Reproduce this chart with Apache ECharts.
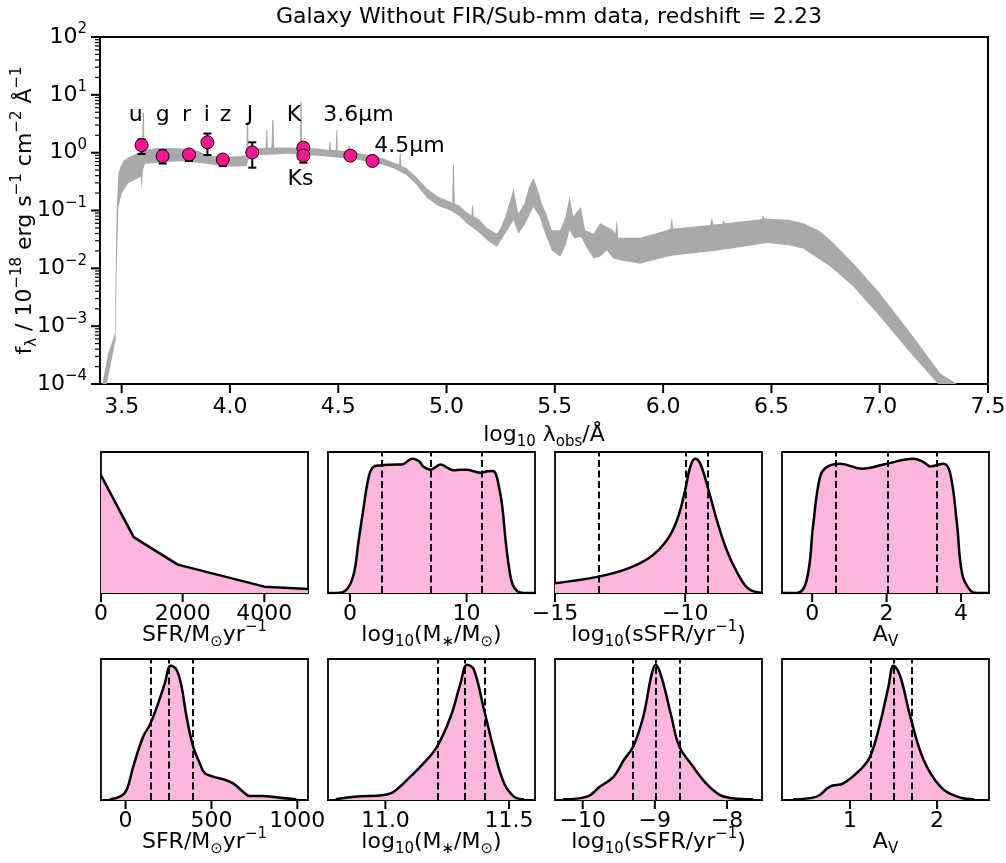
<!DOCTYPE html>
<html>
<head>
<meta charset="utf-8">
<title>SED fit</title>
<script src="https://cdn.jsdelivr.net/npm/echarts@6/dist/echarts.min.js"></script>
<style>
  html, body { margin: 0; padding: 0; background: #fff; }
  #main { width: 1006px; height: 863px; }
</style>
</head>
<body>
<div id="main"></div>
<script>
// SED band: [log10 lambda_obs / A, log10 flux (1e-18 erg/s/cm2/A)]
const sedUpper = [[3.411,-4.0],[3.438,-3.47],[3.469,-3.13],[3.474,-1.6],[3.477,-0.99],[3.485,-0.36],[3.492,-0.27],[3.510,-0.13],[3.531,-0.08],[3.555,-0.04],[3.577,0.0],[3.595,0.02],[3.597,0.69],[3.603,0.69],[3.605,0.03],[3.620,0.06],[3.662,0.08],[3.720,0.08],[3.770,0.07],[3.816,0.06],[3.860,0.02],[3.893,-0.04],[3.930,-0.06],[3.970,-0.07],[4.030,-0.06],[4.076,-0.05],[4.078,0.53],[4.084,0.53],[4.086,0.02],[4.100,0.07],[4.150,0.08],[4.165,0.09],[4.168,0.39],[4.172,0.39],[4.175,0.09],[4.192,0.09],[4.195,0.56],[4.201,0.56],[4.204,0.09],[4.278,0.09],[4.323,0.08],[4.325,0.88],[4.331,0.88],[4.333,0.08],[4.400,0.07],[4.431,0.06],[4.457,0.05],[4.460,0.19],[4.464,0.19],[4.467,0.05],[4.488,0.04],[4.491,0.39],[4.495,0.39],[4.498,0.04],[4.545,0.02],[4.548,0.13],[4.552,0.13],[4.555,0.02],[4.585,0.0],[4.650,-0.05],[4.708,-0.10],[4.760,-0.18],[4.781,-0.20],[4.784,-0.01],[4.788,-0.01],[4.791,-0.22],[4.816,-0.27],[4.860,-0.42],[4.909,-0.62],[4.960,-0.76],[5.017,-0.85],[5.026,-0.88],[5.030,-0.21],[5.034,-0.21],[5.038,-0.88],[5.060,-0.92],[5.093,-1.03],[5.115,-1.08],[5.118,-0.91],[5.122,-0.91],[5.125,-1.10],[5.150,-1.15],[5.186,-1.30],[5.232,-1.40],[5.250,-1.30],[5.271,-1.11],[5.300,-0.75],[5.309,-0.62],[5.320,-0.85],[5.332,-1.05],[5.360,-0.88],[5.380,-0.60],[5.401,-0.44],[5.420,-0.62],[5.440,-0.88],[5.460,-1.05],[5.486,-1.34],[5.525,-1.34],[5.550,-1.10],[5.568,-0.76],[5.585,-1.11],[5.620,-0.94],[5.640,-1.34],[5.679,-1.40],[5.709,-1.22],[5.740,-1.28],[5.770,-1.34],[5.779,-1.40],[5.786,-1.15],[5.793,-1.47],[5.894,-1.47],[6.017,-1.34],[6.033,-1.32],[6.040,-1.11],[6.047,-1.31],[6.217,-1.25],[6.225,-1.12],[6.232,-1.24],[6.272,-1.23],[6.279,-1.17],[6.286,-1.22],[6.454,-1.15],[6.461,-1.08],[6.468,-1.14],[6.580,-1.16],[6.649,-1.22],[6.720,-1.35],[6.772,-1.51],[6.880,-1.92],[7.003,-2.44],[7.157,-3.19],[7.280,-3.82],[7.357,-4.0]];
const sedLower = [[3.431,-4.0],[3.472,-3.24],[3.477,-2.0],[3.485,-0.94],[3.500,-0.70],[3.531,-0.53],[3.577,-0.44],[3.588,-0.42],[3.593,-0.65],[3.598,-0.30],[3.608,-0.19],[3.654,-0.18],[3.700,-0.16],[3.770,-0.15],[3.816,-0.16],[3.893,-0.19],[3.970,-0.24],[4.030,-0.24],[4.077,-0.23],[4.090,-0.05],[4.200,-0.03],[4.278,-0.02],[4.431,-0.06],[4.585,-0.12],[4.708,-0.21],[4.760,-0.28],[4.816,-0.39],[4.860,-0.55],[4.909,-0.78],[4.960,-0.92],[5.017,-1.00],[5.060,-1.10],[5.093,-1.22],[5.150,-1.38],[5.186,-1.51],[5.232,-1.63],[5.271,-1.40],[5.309,-1.17],[5.332,-1.40],[5.360,-1.25],[5.401,-0.94],[5.430,-1.11],[5.450,-1.34],[5.486,-1.69],[5.525,-1.80],[5.550,-1.60],[5.568,-1.34],[5.590,-1.48],[5.620,-1.46],[5.650,-1.66],[5.679,-1.83],[5.709,-1.80],[5.740,-1.69],[5.770,-1.83],[5.802,-1.86],[5.894,-1.92],[6.017,-1.80],[6.063,-1.77],[6.217,-1.71],[6.310,-1.66],[6.479,-1.56],[6.580,-1.60],[6.649,-1.66],[6.772,-1.97],[6.880,-2.32],[7.003,-2.84],[7.157,-3.53],[7.270,-4.0]];

// photometry (flux in 1e-18 erg/s/cm2/A)
const photLogLam = [3.592, 3.689, 3.811, 3.896, 3.967, 4.103, 4.339, 4.339, 4.556, 4.658];
const photFlux   = [1.35, 0.87, 0.93, 1.51, 0.76, 1.01, 1.22, 0.89, 0.89, 0.72];
const photLow    = [0.95, 0.65, 0.72, 0.91, 0.59, 0.55, 1.15, 0.67, 0.86, 0.70];
const photHigh   = [1.70, 1.10, 1.10, 2.14, 0.91, 1.51, 1.30, 1.00, 0.92, 0.74];

// filter names
const filterNames  = ['u', 'g', 'r', 'i', 'z', 'J', 'K', '3.6μm', '4.5μm', 'Ks'];
const filterLogLam = [3.565, 3.690, 3.799, 3.893, 3.979, 4.093, 4.295, 4.593, 4.829, 4.326];
const filterFlux   = [4.48, 4.48, 4.48, 4.48, 4.48, 4.48, 4.48, 4.48, 1.30, 0.34];

// main axis ticks
const lamTicks = [3.5, 4.0, 4.5, 5.0, 5.5, 6.0, 6.5, 7.0, 7.5];
const fluxTicks = [-4, -3, -2, -1, 0, 1, 2];

// posterior curves (x, normalised density)
const sfrWideX = [0, 800, 1880, 4000, 5070];
const sfrWideY = [0.834, 0.396, 0.201, 0.045, 0.028];
const massWideX = [-1.9, -1.12, -0.26, 0.32, 0.74, 1.17, 1.60, 1.98, 2.61, 3.47, 4.47, 5.33, 5.90, 6.33, 6.91, 7.34, 7.77, 8.34, 8.91, 9.48, 10.06, 10.63, 11.20, 11.78, 12.21, 12.50, 12.78, 13.07, 13.35, 13.64, 13.93, 14.36, 14.93, 15.87];
const massWideY = [0, 0, 0.028, 0.135, 0.372, 0.609, 0.822, 0.893, 0.905, 0.910, 0.912, 0.953, 0.936, 0.893, 0.874, 0.893, 0.912, 0.889, 0.870, 0.874, 0.874, 0.863, 0.853, 0.863, 0.865, 0.846, 0.751, 0.609, 0.372, 0.183, 0.064, 0.012, 0, 0];
const ssfrWideX = [-15, -13.33, -12.24, -11.35, -10.71, -10.32, -10.0, -9.81, -9.62, -9.42, -9.1, -8.78, -8.4, -8.01, -7.63, -7.24, -7.05];
const ssfrWideY = [0.069, 0.116, 0.171, 0.254, 0.372, 0.514, 0.73, 0.893, 0.953, 0.917, 0.727, 0.514, 0.301, 0.147, 0.04, 0.005, 0.002];
const avWideX = [-0.81, -0.42, -0.15, 0.03, 0.21, 0.39, 0.75, 1.33, 2.0, 2.72, 2.99, 3.17, 3.53, 3.71, 3.89, 4.03, 4.25, 4.43, 4.75];
const avWideY = [0, 0, 0.088, 0.49, 0.822, 0.893, 0.917, 0.882, 0.917, 0.953, 0.929, 0.898, 0.917, 0.846, 0.49, 0.135, 0.017, 0, 0];

const sfrX = [-91, -33, 6, 44.6, 102.7, 141.5, 190, 228.7, 263.6, 296.5, 325.6, 354.7, 393.4, 432.2, 461.2, 509.7, 567.8, 626, 684, 723, 800, 878, 994];
const sfrY = [0.005, 0.024, 0.071, 0.237, 0.45, 0.533, 0.687, 0.829, 0.953, 0.924, 0.806, 0.592, 0.379, 0.261, 0.190, 0.166, 0.147, 0.118, 0.059, 0.028, 0.028, 0.019, 0.005];
const massX = [10.80, 10.885, 10.993, 11.034, 11.101, 11.155, 11.209, 11.264, 11.304, 11.331, 11.358, 11.399, 11.439, 11.48, 11.52, 11.561];
const massY = [0.005, 0.024, 0.036, 0.059, 0.166, 0.261, 0.379, 0.592, 0.829, 0.960, 0.924, 0.64, 0.355, 0.118, 0.024, 0.005];
const ssfrX = [-10.27, -9.94, -9.76, -9.57, -9.43, -9.30, -9.16, -9.05, -8.99, -8.91, -8.77, -8.66, -8.47, -8.29, -8.1, -7.92, -7.64];
const ssfrY = [0.005, 0.024, 0.095, 0.166, 0.284, 0.379, 0.592, 0.877, 0.960, 0.877, 0.592, 0.379, 0.237, 0.118, 0.036, 0.012, 0.005];
const avX = [0.346, 0.615, 0.769, 0.923, 1.115, 1.231, 1.346, 1.442, 1.5, 1.577, 1.692, 1.846, 2.038, 2.231, 2.423];
const avY = [0.005, 0.024, 0.095, 0.118, 0.213, 0.308, 0.545, 0.806, 0.953, 0.877, 0.592, 0.284, 0.095, 0.024, 0.005];

// 16/50/84 percentiles
const massWideQ = [2.75, 6.91, 11.26];
const ssfrWideQ = [-13.33, -9.97, -9.13];
const avWideQ = [0.64, 2.02, 3.35];
const sfrQ = [147, 254, 390];
const massQ = [11.209, 11.322, 11.397];
const ssfrQ = [-9.31, -8.99, -8.66];
const avQ = [1.238, 1.5, 1.712];

// tick labels of the small panels
const sfrWideTicks = [0, 2000, 4000];
const massWideTicks = [0, 10];
const ssfrWideTicks = [-15, -10];
const avWideTicks = [0, 2, 4];
const sfrTicks = [0, 500, 1000];
const massTicks = [11.0, 11.5];
const ssfrTicks = [-10, -9, -8];
const avTicks = [1, 2];

const FONT = 'DejaVu Sans';
const rich = {
  b: { fontSize: 22, lineHeight: 30, fontFamily: FONT, color: '#000' },
  sp: { fontSize: 15, lineHeight: 16, verticalAlign: 'top', fontFamily: FONT, color: '#000' },
  sb: { fontSize: 15, lineHeight: 16, verticalAlign: 'bottom', fontFamily: FONT, color: '#000' }
};
const minus = (s) => String(s).replace('-', '−');

const sfrName = '{b|SFR/M}{sb|⊙}{b|yr}{sp|−1}';
const massName = '{b|log}{sb|10}{b|(M}{sb|∗}{b|/M}{sb|⊙}{b|)}';
const ssfrName = '{b|log}{sb|10}{b|(sSFR/yr}{sp|−1}{b|)}';
const avName = '{b|A}{sb|V}';

const panels = [
  { x: sfrWideX, y: sfrWideY, q: [], ticks: sfrWideTicks, min: 0, max: 5070, dec: 0, name: sfrName, smooth: false },
  { x: massWideX, y: massWideY, q: massWideQ, ticks: massWideTicks, min: -1.89, max: 15.87, dec: 0, name: massName, smooth: 0.4 },
  { x: ssfrWideX, y: ssfrWideY, q: ssfrWideQ, ticks: ssfrWideTicks, min: -15, max: -7.05, dec: 0, name: ssfrName, smooth: 0.4 },
  { x: avWideX, y: avWideY, q: avWideQ, ticks: avWideTicks, min: -0.81, max: 4.75, dec: 0, name: avName, smooth: 0.4 },
  { x: sfrX, y: sfrY, q: sfrQ, ticks: sfrTicks, min: -143, max: 1062, dec: 0, name: sfrName, smooth: 0.4 },
  { x: massX, y: massY, q: massQ, ticks: massTicks, min: 10.768, max: 11.605, dec: 1, name: massName, smooth: 0.4 },
  { x: ssfrX, y: ssfrY, q: ssfrQ, ticks: ssfrTicks, min: -10.384, max: -7.514, dec: 0, name: ssfrName, smooth: 0.4 },
  { x: avX, y: avY, q: avQ, ticks: avTicks, min: 0.219, max: 2.596, dec: 0, name: avName, smooth: 0.4 }
];

// log minor tick positions (2..9 x 10^k)
const minorTicks = [];
for (let k = -4; k < 2; k++) {
  for (let j = 2; j < 10; j++) minorTicks.push(k + Math.log10(j));
}

const grids = [{
  left: 100, top: 37, width: 888, height: 347, containLabel: false, outerBoundsMode: 'none',
  show: true, borderColor: '#000', borderWidth: 2
}];
const colLeft = [101, 328, 555, 782];
const rowTop = [452, 659];
panels.forEach((p, i) => {
  grids.push({
    left: colLeft[i % 4], top: rowTop[Math.floor(i / 4)], width: 207, height: 141,
    containLabel: false, outerBoundsMode: 'none',
    show: true, borderColor: '#000', borderWidth: 1.8
  });
});

const xAxes = [{
  gridIndex: 0, type: 'value', min: 3.4, max: 7.5, position: 'bottom',
  name: '{b|log}{sb|10}{b| λ}{sb|obs}{b|/Å}', nameLocation: 'middle', nameGap: 36, nameMoveOverlap: false,
  nameTextStyle: { rich: rich },
  axisLine: { show: true, onZero: false, lineStyle: { color: '#000', width: 2 } },
  axisTick: { show: false },
  axisLabel: { customValues: lamTicks, formatter: (v) => v.toFixed(1), fontSize: 22, fontFamily: FONT, color: '#000', margin: 12 },
  splitLine: { show: false }
}];
const yAxes = [{
  gridIndex: 0, type: 'value', min: -4, max: 2, interval: 1, position: 'left',
  name: '{b|f}{sb|λ}{b| / 10}{sp|−18}{b| erg s}{sp|−1}{b| cm}{sp|−2}{b| Å}{sp|−1}',
  nameLocation: 'middle', nameGap: 60, nameMoveOverlap: false, nameTextStyle: { rich: rich },
  axisLine: { show: true, onZero: false, lineStyle: { color: '#000', width: 2 } },
  axisTick: { show: false },
  axisLabel: {
    margin: 13,
    formatter: (v) => '{b|10}{sp|' + minus(Math.round(v)) + '}', rich: rich
  },
  splitLine: { show: false }
}];

panels.forEach((p, i) => {
  xAxes.push({
    gridIndex: i + 1, type: 'value', min: p.min, max: p.max, position: 'bottom',
    name: p.name, nameLocation: 'middle', nameGap: 27, nameMoveOverlap: false, nameTextStyle: { rich: rich },
    axisLine: { show: true, onZero: false, lineStyle: { color: '#000', width: 1.8 } },
    axisTick: { show: false },
    axisLabel: {
      customValues: p.ticks, formatter: (v) => minus(v.toFixed(p.dec)),
      fontSize: 22, fontFamily: FONT, color: '#000', margin: 10
    },
    splitLine: { show: false }
  });
  yAxes.push({ gridIndex: i + 1, type: 'value', min: 0, max: 1, show: false });
});

const series = [{
  type: 'custom', xAxisIndex: 0, yAxisIndex: 0, z: 1,
  data: [[5, 0]],
  renderItem: function (params, api) {
    const pts = [];
    sedUpper.forEach((d) => pts.push(api.coord(d)));
    for (let i = sedLower.length - 1; i >= 0; i--) pts.push(api.coord(sedLower[i]));
    return { type: 'polygon', shape: { points: pts }, style: { fill: '#a9a9a9' } };
  }
}, {
  type: 'custom', xAxisIndex: 0, yAxisIndex: 0, z: 2,
  data: photLogLam.map((x, i) => [x, Math.log10(photLow[i]), Math.log10(photHigh[i])]),
  renderItem: function (params, api) {
    const lo = api.coord([api.value(0), api.value(1)]);
    const hi = api.coord([api.value(0), api.value(2)]);
    const cw = 4;
    const st = { stroke: '#000', lineWidth: 2 };
    return {
      type: 'group', children: [
        { type: 'line', shape: { x1: lo[0], y1: lo[1], x2: hi[0], y2: hi[1] }, style: st },
        { type: 'line', shape: { x1: lo[0] - cw, y1: lo[1], x2: lo[0] + cw, y2: lo[1] }, style: st },
        { type: 'line', shape: { x1: hi[0] - cw, y1: hi[1], x2: hi[0] + cw, y2: hi[1] }, style: st }
      ]
    };
  }
}, {
  type: 'scatter', xAxisIndex: 0, yAxisIndex: 0, z: 3,
  symbol: 'circle', symbolSize: 13,
  itemStyle: { color: '#ff1493', borderColor: '#000', borderWidth: 1, opacity: 1 },
  data: photLogLam.map((x, i) => [x, Math.log10(photFlux[i])])
}, {
  type: 'scatter', xAxisIndex: 0, yAxisIndex: 0, z: 4,
  symbolSize: 1, itemStyle: { color: 'rgba(0,0,0,0)', opacity: 1 },
  label: {
    show: true, position: 'inside', formatter: '{b}', fontSize: 22, fontFamily: FONT,
    color: '#000', opacity: 1, textBorderWidth: 0
  },
  data: filterNames.map((n, i) => ({ name: n, value: [filterLogLam[i], Math.log10(filterFlux[i])] }))
}];

panels.forEach((p, i) => {
  series.push({
    type: 'line', xAxisIndex: i + 1, yAxisIndex: i + 1,
    smooth: p.smooth, showSymbol: false, symbol: 'none',
    lineStyle: { color: '#000', width: 2.5 },
    areaStyle: { color: '#fdb6dc', opacity: 1, origin: 'start' },
    data: p.x.map((x, k) => [x, p.y[k]]),
    markLine: {
      silent: true, symbol: 'none', label: { show: false },
      lineStyle: { color: '#000', width: 2, type: [7, 3.5] },
      data: p.q.map((v) => ({ xAxis: v }))
    }
  });
});

const chart = echarts.init(document.getElementById('main'));
chart.setOption({
  animation: false,
  backgroundColor: '#fff',
  title: {
    text: 'Galaxy Without FIR/Sub-mm data, redshift = 2.23',
    left: 544, top: 1, textAlign: 'center',
    textStyle: { fontSize: 22, fontWeight: 'normal', fontFamily: FONT, color: '#000' }
  },
  grid: grids,
  xAxis: xAxes,
  yAxis: yAxes,
  series: series
});

// tick marks, placed through the axes' own scales
const ticks = [];
function tick(pt, dx, dy, w) {
  ticks.push({
    type: 'line', silent: true, z: 100,
    shape: { x1: pt[0], y1: pt[1], x2: pt[0] + dx, y2: pt[1] + dy },
    style: { stroke: '#000', lineWidth: w }
  });
}
lamTicks.forEach((v) => tick(chart.convertToPixel({ gridIndex: 0 }, [v, -4]), 0, 9, 2));
fluxTicks.forEach((v) => tick(chart.convertToPixel({ gridIndex: 0 }, [3.4, v]), -9, 0, 2));
minorTicks.forEach((v) => tick(chart.convertToPixel({ gridIndex: 0 }, [3.4, v]), -5, 0, 1.2));
panels.forEach((p, i) => {
  p.ticks.forEach((v) => tick(chart.convertToPixel({ gridIndex: i + 1 }, [v, 0]), 0, 9, 2));
});
chart.setOption({ graphic: ticks });
</script>
</body>
</html>
